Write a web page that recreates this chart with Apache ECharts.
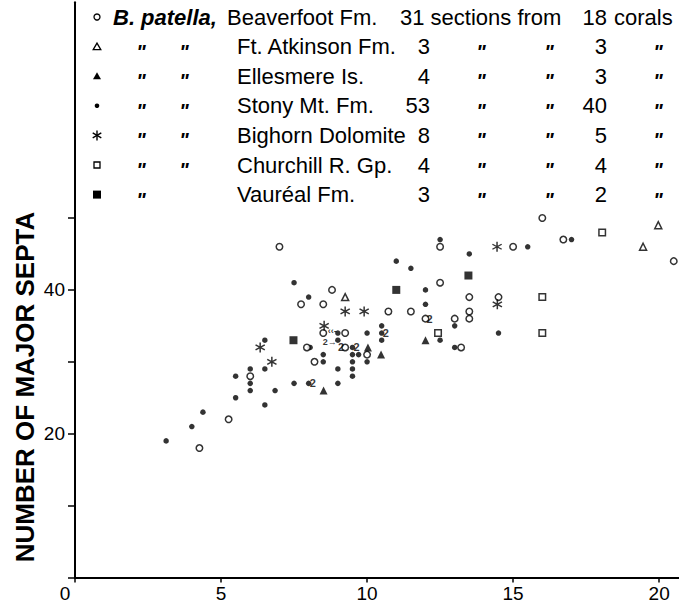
<!DOCTYPE html>
<html><head><meta charset="utf-8">
<script src="https://cdn.jsdelivr.net/npm/echarts@6/dist/echarts.min.js"></script>
<style>html,body{margin:0;padding:0;background:#fff}#c{width:679px;height:604px}</style>
</head><body><div id="c"></div>
<script>
// ---- tick values ----
const xTickValues = [0, 5, 10, 15, 20];
const yTickValues = [0, 10, 20, 30, 40, 50];
const yLabelValues = [20, 40];

// ---- data: [width (mm), number of major septa] ----
const beaverfoot = [[4.26,18],[5.26,22],[6.0,28],[7.0,46],[7.74,38],[7.94,32],[8.2,30],[8.5,34],[8.5,38],[8.8,40],[9.25,34],[9.25,32],[10.0,31],[10.73,37],[11.5,37],[12.0,36],[12.5,41],[12.5,46],[13.0,36],[13.22,32],[13.5,37],[13.5,36],[13.5,39],[14.5,39],[15.0,46],[16.0,50],[16.72,47],[20.5,44]];
const ftAtkinson = [[9.25,39],[19.45,46],[19.97,49]];
const ellesmere = [[8.51,26],[10.48,31],[12.0,33],[10.03,32]];
const stonyMt = [[3.12,19],[4.0,21],[4.38,23],[5.5,25],[5.5,28],[6.0,29],[6.0,27],[6.0,26],[6.5,33],[6.5,29],[6.5,24],[6.85,26],[7.5,27],[8.0,27],[7.5,41],[8.0,39],[8.05,32],[8.5,31],[8.5,30],[9.0,33],[9.0,34],[9.0,29],[9.0,27],[9.5,32],[9.5,31],[9.71,31],[9.5,30],[9.5,29],[9.5,28],[10.0,34],[10.0,30],[10.5,35],[10.5,34],[10.5,33],[11.0,44],[11.5,43],[12.0,40],[12.0,38],[12.5,47],[12.5,33],[13.0,32],[13.0,35],[13.5,45],[14.5,34],[15.5,46],[17.0,47]];
const bighorn = [[6.34,32],[6.74,30],[8.53,35],[9.25,37],[9.9,37],[14.45,46],[14.46,38]];
const churchill = [[12.43,34],[16.0,39],[16.0,34],[18.05,48]];
const vaureal = [[7.48,33],[11.0,40],[13.47,42]];

// duplicate ("2") annotations and section arrows
const dupRight = [[8.0,27],[9.5,32],[10.5,34],[12.0,36]];
const dupLeft = [[9.25,32]];
const arrowTwo = [[9.0,33]];
const arrowChain = [[9.0,34]];

// ---- legend table ----
const legendLocations = ['Beaverfoot Fm.','Ft. Atkinson Fm.','Ellesmere Is.','Stony Mt. Fm.','Bighorn Dolomite','Churchill R. Gp.','Vauréal Fm.'];
const legendSections = [31, 3, 4, 53, 8, 4, 3];
const legendCorals = [18, 3, 3, 40, 5, 4, 2];
const legendSymbols = ['openCircle','openTriangle','triangle','dot','asterisk','openSquare','square'];

const FONT = "'Liberation Sans', Arial, Helvetica, sans-serif";
const LFS = 22;
const asteriskPath = 'path://M-0.7,-5L0.7,-5L0.7,5L-0.7,5Z M3.98,-3.11L4.68,-1.89L-3.98,3.11L-4.68,1.89Z M-4.68,-1.89L-3.98,-3.11L4.68,1.89L3.98,3.11Z';

const openStyle = {color:'#fff', borderColor:'#000', borderWidth:1.5};
const fillStyle = {color:'#000'};

function sc(name, data, symbol, size, style, z) {
  return {name, type:'scatter', data, symbol, symbolSize:size, itemStyle:style, z:z||2, silent:true, animation:false};
}
function annot(data, text, pos, size, offset) {
  return {type:'scatter', data, symbolSize:0, z:5, silent:true, animation:false,
    label:{show:true, position:pos, distance:1, offset:offset||[0,0], formatter:text, color:'#000', fontSize:size||11, fontWeight:'bold', fontFamily:FONT}};
}

// ---- legend graphics ----
const graphics = [];
const rowY = i => 17 + 29.6 * i;
const LX = 97;
function legendMarker(kind, y) {
  switch (kind) {
    case 'openCircle': return {type:'circle', shape:{cx:LX, cy:y, r:3}, style:{fill:'#fff', stroke:'#000', lineWidth:1.3}};
    case 'openTriangle': return {type:'polygon', shape:{points:[[LX,y-3.5],[LX+3.8,y+3],[LX-3.8,y+3]]}, style:{fill:'#fff', stroke:'#000', lineWidth:1.3}};
    case 'triangle': return {type:'polygon', shape:{points:[[LX,y-4],[LX+4,y+3],[LX-4,y+3]]}, style:{fill:'#000'}};
    case 'dot': return {type:'circle', shape:{cx:LX, cy:y, r:2.3}, style:{fill:'#000'}};
    case 'asterisk': return {type:'group', children:[
      {type:'line', shape:{x1:LX, y1:y-5, x2:LX, y2:y+5}, style:{stroke:'#000', lineWidth:1.4}},
      {type:'line', shape:{x1:LX-4.3, y1:y-2.5, x2:LX+4.3, y2:y+2.5}, style:{stroke:'#000', lineWidth:1.4}},
      {type:'line', shape:{x1:LX-4.3, y1:y+2.5, x2:LX+4.3, y2:y-2.5}, style:{stroke:'#000', lineWidth:1.4}}]};
    case 'openSquare': return {type:'rect', shape:{x:LX-3, y:y-3, width:6, height:6}, style:{fill:'#fff', stroke:'#000', lineWidth:1.3}};
    case 'square': return {type:'rect', shape:{x:LX-4, y:y-4, width:8, height:8}, style:{fill:'#000'}};
  }
}
function txt(x, y, text, align, extra) {
  return {type:'text', x, y, style:Object.assign({text, fill:'#000', font:`${LFS}px ${FONT}`, align:align||'left', verticalAlign:'middle'}, extra||{})};
}
function ditto(x, y) {
  return {type:'text', x, y:y+5, style:{text:'"', fill:'#000', font:`bold italic 20px ${FONT}`, align:'center', verticalAlign:'middle'}};
}
legendLocations.forEach((loc, i) => {
  const y = rowY(i);
  graphics.push(legendMarker(legendSymbols[i], y));
  if (i === 0) {
    graphics.push(txt(113, y, 'B. patella,', 'left', {font:`bold italic ${LFS}px ${FONT}`}));
    graphics.push(txt(227, y, loc));
    graphics.push(txt(400, y, `${legendSections[i]} sections from`));
    graphics.push(txt(607, y, String(legendCorals[i]), 'right'));
    graphics.push(txt(614, y, 'corals'));
  } else {
    graphics.push(ditto(141, y));
    if (i < legendLocations.length - 1) graphics.push(ditto(184, y));
    graphics.push(txt(237, y, loc));
    graphics.push(txt(430, y, String(legendSections[i]), 'right'));
    graphics.push(ditto(481, y));
    graphics.push(ditto(549, y));
    graphics.push(txt(607, y, String(legendCorals[i]), 'right'));
    graphics.push(ditto(658, y));
  }
});
graphics.push({type:'text', x:25, y:387, rotation:Math.PI/2,
  style:{text:'NUMBER OF MAJOR SEPTA', fill:'#000', font:`bold 26px ${FONT}`, align:'center', verticalAlign:'middle'}});

const chart = echarts.init(document.getElementById('c'), null, {renderer:'svg'});
chart.setOption({
  backgroundColor:'#fff',
  animation:false,
  grid:{left:75, right:0, top:2.3, bottom:26.5, containLabel:false},
  xAxis:{type:'value', min:0, max:20.68, splitLine:{show:false},
    axisLine:{show:true, onZero:false, lineStyle:{color:'#000', width:2}},
    axisTick:{show:true, length:5, customValues:xTickValues, lineStyle:{color:'#000', width:1.5}},
    axisLabel:{customValues:xTickValues, margin:6, color:'#000', fontSize:19, fontFamily:FONT,
      formatter:v => v === 0 ? '{z|0}' : String(v),
      rich:{z:{fontSize:19, fontFamily:FONT, color:'#000', padding:[0,20,0,0]}}}},
  yAxis:{type:'value', min:0, max:80, splitLine:{show:false},
    axisLine:{show:true, onZero:false, lineStyle:{color:'#000', width:2}},
    axisTick:{show:true, length:7, customValues:yTickValues, lineStyle:{color:'#000', width:1.5}},
    axisLabel:{customValues:yLabelValues, margin:10, color:'#000', fontSize:19, fontFamily:FONT}},
  graphic:graphics,
  series:[
    sc('Stony Mt. Fm.', stonyMt, 'circle', 5.5, fillStyle, 2),
    sc('Beaverfoot Fm.', beaverfoot, 'circle', 6.5, openStyle, 3),
    sc('Ft. Atkinson Fm.', ftAtkinson, 'triangle', 7, openStyle, 3),
    sc('Ellesmere Is.', ellesmere, 'triangle', 8, fillStyle, 3),
    sc('Bighorn Dolomite', bighorn, asteriskPath, 10, fillStyle, 3),
    sc('Churchill R. Gp.', churchill, 'rect', 6.5, openStyle, 3),
    sc('Vauréal Fm.', vaureal, 'rect', 8, fillStyle, 3),
    annot(dupRight, '2', 'right', 11),
    annot(dupLeft, '2', 'left', 11),
    annot(arrowTwo, '2→', 'left', 9, [0, 2]),
    annot(arrowChain, '‹‹-', 'left', 9, [0, -2])
  ]
});
</script></body></html>
